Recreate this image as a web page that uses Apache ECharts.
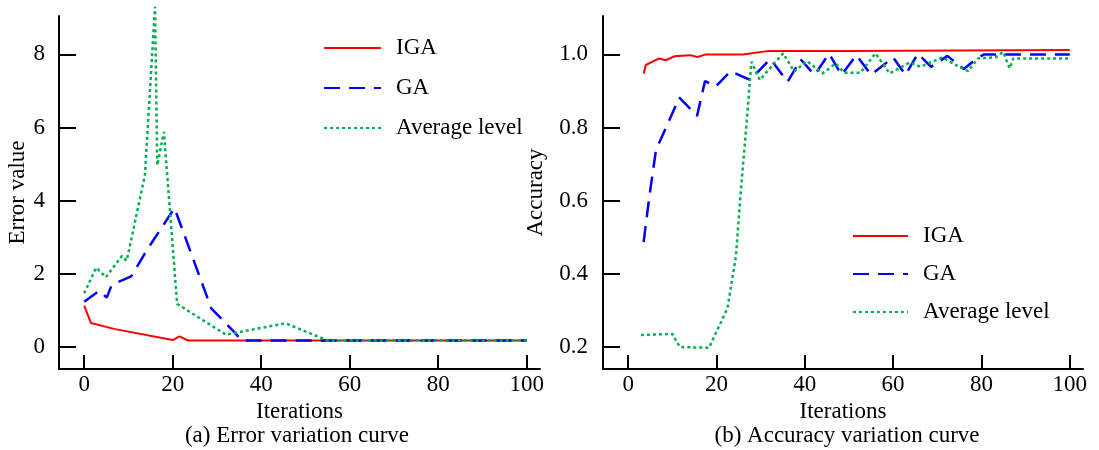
<!DOCTYPE html>
<html>
<head>
<meta charset="utf-8">
<script src="https://cdn.jsdelivr.net/npm/echarts@6/dist/echarts.min.js"></script>
<style>
  html, body { margin: 0; padding: 0; background: #fff; }
  #chart { width: 1099px; height: 450px; }
</style>
</head>
<body>
<div id="chart"></div>
<script>
// Tick positions
const iterTicks = [0, 20, 40, 60, 80, 100];
const errTicks = [0, 2, 4, 6, 8];
const accTicks = [0.2, 0.4, 0.6, 0.8, 1.0];

const seriesNames = ['IGA', 'GA', 'Average level'];

// (a) Error value per iteration
const errIgaX = [0, 1.5, 7, 20, 21.5, 23.5, 100];
const errIgaY = [1.13, 0.66, 0.49, 0.19, 0.29, 0.18, 0.18];

const errGaX = [0, 3.4, 5.1, 6.2, 10.6, 14.1, 20.4, 28.7, 34.3, 35.5, 100];
const errGaY = [1.24, 1.54, 1.35, 1.70, 1.93, 2.64, 3.80, 1.06, 0.36, 0.18, 0.18];

const errAvgX = [0, 2.7, 4.9, 8.5, 9.6, 13.7, 16, 16.5, 18, 21, 32, 45.5, 55, 100];
const errAvgY = [1.47, 2.17, 1.91, 2.49, 2.36, 4.69, 9.3, 4.97, 5.88, 1.18, 0.34, 0.65, 0.18, 0.18];

// (b) Accuracy per iteration
const accIgaX = [3.5, 4, 7, 8.5, 10.5, 14, 15.7, 17.6, 26, 31.5, 50, 100];
const accIgaY = [0.948, 0.971, 0.989, 0.984, 0.995, 0.998, 0.993, 1.0, 1.0, 1.009, 1.009, 1.012];

const accGaX = [3.5, 4.8, 6.3, 11.6, 15.6, 17.4, 19.8, 23.2, 27.6, 32.2, 36.1, 39.1, 42.2, 45.5, 48.3, 51.7, 55, 60, 62.8, 65.6, 68.6, 72.3, 76, 79, 80.6, 100];
const accGaY = [0.487, 0.612, 0.739, 0.882, 0.832, 0.927, 0.912, 0.954, 0.930, 0.988, 0.925, 0.986, 0.944, 1.002, 0.944, 0.998, 0.944, 0.992, 0.944, 1.002, 0.966, 0.996, 0.960, 0.989, 1.0, 1.0];

const accAvgX = [2.9, 10, 11.7, 18.3, 22.5, 24.4, 25.5, 27, 27.9, 29.8, 35.1, 37.6, 40.5, 44, 47, 48.9, 52.6, 56, 59.2, 63.8, 66.2, 71.1, 73.6, 77, 79.2, 83.3, 84.9, 86.4, 87.2, 100];
const accAvgY = [0.233, 0.236, 0.2, 0.198, 0.307, 0.448, 0.625, 0.839, 0.98, 0.93, 1.003, 0.953, 0.982, 0.948, 0.975, 0.95, 0.95, 1.003, 0.948, 0.978, 0.966, 0.992, 0.975, 0.954, 0.989, 0.992, 1.007, 0.962, 0.989, 0.989];

const FONT = "'Liberation Serif', 'Times New Roman', serif";
const FONT_SIZE = 23;
const baseText = { fontFamily: FONT, fontSize: FONT_SIZE, color: '#000' };

function pairs(xs, ys) { return xs.map((x, i) => [x, ys[i]]); }

const styles = {
  'IGA': { color: '#ff0000', width: 2, type: 'solid' },
  'GA': { color: '#0000ff', width: 2.5, type: [16, 9] },
  'Average level': { color: '#00b050', width: 2.5, type: [3, 3] }
};

function lineSeries(name, idx, xs, ys) {
  const s = styles[name];
  return {
    name: name,
    type: 'line',
    xAxisIndex: idx,
    yAxisIndex: idx,
    data: pairs(xs, ys),
    symbol: 'none',
    clip: false,
    lineStyle: { color: s.color, width: s.width, type: s.type },
    itemStyle: { color: s.color }
  };
}

function xAxisCfg(idx) {
  return {
    type: 'value',
    gridIndex: idx,
    min: -5.7,
    max: 103,
    axisLine: { show: true, onZero: false, lineStyle: { color: '#000', width: 2 } },
    axisTick: { show: true, inside: true, length: 14, customValues: iterTicks, lineStyle: { color: '#000', width: 2 } },
    axisLabel: Object.assign({ customValues: iterTicks, margin: 4 }, baseText),
    splitLine: { show: false },
    name: 'Iterations',
    nameLocation: 'middle',
    nameGap: 25,
    nameTextStyle: Object.assign({}, baseText)
  };
}

function legendCfg(left, top, w, gap) {
  return {
    orient: 'vertical',
    left: left,
    top: top,
    itemWidth: w,
    itemHeight: 14,
    itemGap: gap,
    selectedMode: false,
    data: seriesNames,
    // line-only keys: hide the point marker drawn inside the key
    itemStyle: { opacity: 0 },
    textStyle: Object.assign({ lineHeight: 24, padding: [0, 0, 0, 10] }, baseText)
  };
}

const chart = echarts.init(document.getElementById('chart'), null, { renderer: 'canvas' });

chart.setOption({
  animation: false,
  backgroundColor: '#fff',
  grid: [
    { left: 59, top: 16, width: 481, height: 353 },
    { left: 603, top: 16, width: 480, height: 353 }
  ],
  xAxis: [xAxisCfg(0), xAxisCfg(1)],
  yAxis: [
    {
      type: 'value',
      gridIndex: 0,
      min: -0.6,
      max: 9.05,
      axisLine: { show: true, onZero: false, lineStyle: { color: '#000', width: 2 } },
      axisTick: { show: true, inside: true, length: 17, customValues: errTicks, lineStyle: { color: '#000', width: 2 } },
      axisLabel: Object.assign({ customValues: errTicks, margin: 14 }, baseText),
      splitLine: { show: false },
      name: 'Error value',
      nameLocation: 'middle',
      nameGap: 29,
      nameTextStyle: Object.assign({}, baseText)
    },
    {
      type: 'value',
      gridIndex: 1,
      min: 0.14,
      max: 1.105,
      axisLine: { show: true, onZero: false, lineStyle: { color: '#000', width: 2 } },
      axisTick: { show: true, inside: true, length: 17, customValues: accTicks, lineStyle: { color: '#000', width: 2 } },
      axisLabel: Object.assign({ customValues: accTicks, margin: 15, formatter: v => v.toFixed(1) }, baseText),
      splitLine: { show: false },
      name: 'Accuracy',
      nameLocation: 'middle',
      nameGap: 56,
      nameTextStyle: Object.assign({}, baseText)
    }
  ],
  legend: [
    legendCfg(318, 31, 57, 16),
    legendCfg(847, 219, 55, 14)
  ],
  series: [
    lineSeries('IGA', 0, errIgaX, errIgaY),
    lineSeries('GA', 0, errGaX, errGaY),
    lineSeries('Average level', 0, errAvgX, errAvgY),
    lineSeries('IGA', 1, accIgaX, accIgaY),
    lineSeries('GA', 1, accGaX, accGaY),
    lineSeries('Average level', 1, accAvgX, accAvgY)
  ],
  graphic: [
    {
      type: 'text', x: 297, y: 436,
      style: { text: '(a) Error variation curve', font: FONT_SIZE + 'px ' + FONT, fill: '#000', align: 'center', verticalAlign: 'middle' }
    },
    {
      type: 'text', x: 847, y: 436,
      style: { text: '(b) Accuracy variation curve', font: FONT_SIZE + 'px ' + FONT, fill: '#000', align: 'center', verticalAlign: 'middle' }
    }
  ]
});
</script>
</body>
</html>
